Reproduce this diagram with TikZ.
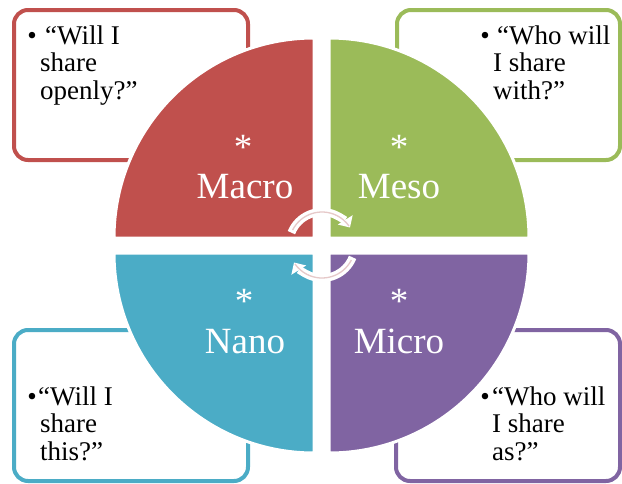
\documentclass[tikz,border=0pt]{standalone}
\usepackage{fontspec}
\setmainfont{Liberation Serif}
\usetikzlibrary{arrows.meta}
\definecolor{cred}{HTML}{C0504D}
\definecolor{cgreen}{HTML}{9BBB59}
\definecolor{cblue}{HTML}{4BACC6}
\definecolor{cpurple}{HTML}{8064A2}
\definecolor{cpink}{HTML}{E6C9C9}
\begin{document}
\begin{tikzpicture}[x=1pt,y=-1pt,
  qbox/.style={draw=#1,fill=white,line width=4pt,rounded corners=14pt},
  quad/.style={fill=#1,draw=white,line width=3pt},
  boxtext/.style={inner sep=0pt,anchor=base west,align=left,font=\fontsize{27}{27.5}\selectfont},
  bul/.style={inner sep=0pt,anchor=base,font=\fontsize{27}{27.5}\selectfont},
  qlabel/.style={inner sep=0pt,anchor=base,text=white,font=\fontsize{37}{40}\selectfont},
  cyc/.style={draw=white,line width=8pt},
  cycin/.style={draw=cpink,line width=1.3pt}]
\useasboundingbox (0,0) rectangle (622,483);
% boxes
\draw[qbox=cred] (14,10) rectangle (248,160);
\draw[qbox=cgreen] (397,10) rectangle (620,160);
\draw[qbox=cblue] (14,330) rectangle (248,481);
\draw[qbox=cpurple] (396,330) rectangle (620,481);
% quadrants
\filldraw[quad=cred] (314,238) -- (114,238) arc[start angle=180,end angle=270,radius=200] -- cycle;
\filldraw[quad=cgreen] (329,238) -- (529,238) arc[start angle=0,end angle=-90,radius=200] -- cycle;
\filldraw[quad=cblue] (314,253) -- (114,253) arc[start angle=180,end angle=90,radius=200] -- cycle;
\filldraw[quad=cpurple] (329,253) -- (529,253) arc[start angle=0,end angle=90,radius=200] -- cycle;
% labels
\node[qlabel] (macro) at (245,198) {Macro};
\node[qlabel] (meso) at (399,198) {Meso};
\node[qlabel] (nano) at (245,353) {Nano};
\node[qlabel] (micro) at (399,353) {Micro};
\node[qlabel] (s1) at (243,159) {*};
\node[qlabel] (s2) at (399,159) {*};
\node[qlabel] (s3) at (244,313) {*};
\node[qlabel] (s4) at (399,313) {*};
% cycle arrows
\coordinate (c) at (322,245);
\draw[cyc,-{Triangle[width=17pt,length=9pt]}] ([shift={(202:33)}]c) arc[start angle=202,end angle=328,radius=33];
\draw[cycin] ([shift={(207:33)}]c) arc[start angle=207,end angle=325,radius=33];
\draw[cyc,-{Triangle[width=17pt,length=9pt]}] ([shift={(22:33)}]c) arc[start angle=22,end angle=148,radius=33];
\draw[cycin] ([shift={(27:33)}]c) arc[start angle=27,end angle=145,radius=33];
% box texts
\node[bul] (b1) at (32,44) {•};
\node[boxtext] (t1) at (40,99) {\hspace*{5pt}“Will I\\share\\openly?”};
\node[bul] (b2) at (485,44) {•};
\node[boxtext] (t2) at (493,99) {\hspace*{4pt}“Who will\\I share\\with?”};
\node[bul] (b3) at (32,405) {•};
\node[boxtext] (t3) at (38,460) {“Will I\\\hspace*{2pt}share\\\hspace*{2pt}this?”};
\node[bul] (b4) at (485,405) {•};
\node[boxtext] (t4) at (492,460) {“Who will\\I share\\as?”};
\end{tikzpicture}
\end{document}
